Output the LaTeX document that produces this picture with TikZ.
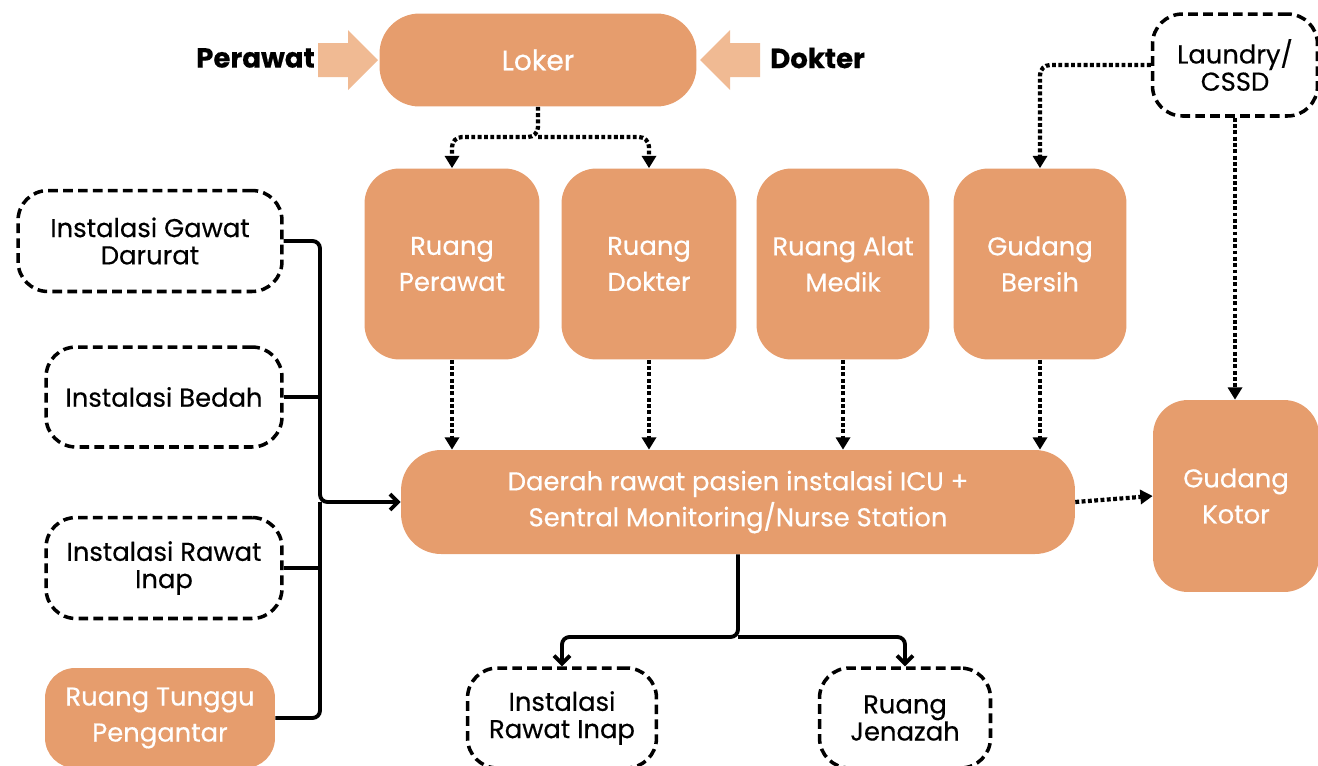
\documentclass[tikz,border=0pt]{standalone}
\usepackage{fontspec}
\setmainfont{Poppins}[FakeBold=0.4]
\usetikzlibrary{arrows.meta}
\definecolor{roomorange}{RGB}{230,157,109}
\definecolor{arrowpeach}{RGB}{240,186,147}
\tikzset{
	room/.style={fill=roomorange, text=white, align=center, inner sep=0pt, rounded corners=0.7cm, font=\fontsize{14.7}{20.5}\selectfont},
	unit/.style={draw, line width=2pt, dash pattern=on 5.5pt off 3pt, align=center, inner sep=0pt, rounded corners=0.6cm, font=\fontsize{14.7}{15.5}\selectfont},
	dotline/.style={line width=2.4pt, dash pattern=on 2.2pt off 1.4pt, rounded corners=0.2cm, -{Triangle[length=7pt,width=8pt]}},
	flowline/.style={line width=2.2pt, rounded corners=0.15cm},
	flowarrow/.style={flowline, -{Straight Barb[length=4.5pt,width=9pt]}}
}

\begin{document}
\begin{tikzpicture}[x=0.02cm, y=-0.02cm]
		%%%%% START %%%%%
		\clip (0, 0) rectangle (1318, 765);
		
		\node[room, minimum width=6.34cm, minimum height=1.86cm, rounded corners=0.8cm, font=\fontsize{16}{20}\selectfont] (loker) at (538, 60) {Loker};
		
		\fill[arrowpeach] (318, 43) -- (348, 43) -- (348, 30) -- (378, 60) -- (348, 90) -- (348, 77) -- (318, 77) -- cycle;
		\fill[arrowpeach] (760, 43) -- (730, 43) -- (730, 30) -- (700, 60) -- (730, 90) -- (730, 77) -- (760, 77) -- cycle;
		\node[anchor=east, font=\fontsize{15.7}{18}\selectfont\bfseries] (perawat) at (321, 58) {Perawat};
		\node[anchor=west, font=\fontsize{15.7}{18}\selectfont\bfseries] (dokter) at (764, 58) {Dokter};
		
		\node[room, minimum width=3.5cm, minimum height=3.82cm] (rperawat) at (452, 264) {Ruang\\Perawat};
		\node[room, minimum width=3.5cm, minimum height=3.82cm] (rdokter) at (649, 264) {Ruang\\Dokter};
		\node[room, minimum width=3.46cm, minimum height=3.82cm] (ralat) at (843, 264) {Ruang Alat\\Medik};
		\node[room, minimum width=3.46cm, minimum height=3.82cm] (gbersih) at (1040, 264) {Gudang\\Bersih};
		
		\node[unit, minimum width=3.3cm, minimum height=2.04cm] (laundry) at (1235, 65) {Laundry/\\CSSD};
		\node[room, minimum width=3.32cm, minimum height=3.84cm] (gkotor) at (1236, 496) {Gudang\\Kotor};
		
		\node[room, minimum width=13.48cm, minimum height=2.08cm, rounded corners=0.8cm] (daerah) at (738, 502) {Daerah rawat pasien instalasi ICU +\\Sentral Monitoring/Nurse Station};
		
		\node[unit, minimum width=5.28cm, minimum height=2.02cm] (igd) at (150, 241) {Instalasi Gawat\\Darurat};
		\node[unit, minimum width=4.72cm, minimum height=2.0cm] (bedah) at (164, 397) {Instalasi Bedah};
		\node[unit, minimum width=4.72cm, minimum height=2.02cm] (inap) at (164, 568) {Instalasi Rawat\\Inap};
		\node[room, minimum width=4.6cm, minimum height=2.0cm, rounded corners=0.6cm] (tunggu) at (160, 718) {Ruang Tunggu\\Pengantar};
		
		\node[unit, minimum width=3.78cm, minimum height=2.0cm] (inapbawah) at (562, 718) {Instalasi\\Rawat Inap};
		\node[unit, minimum width=3.42cm, minimum height=2.0cm] (jenazah) at (905, 718) {Ruang\\Jenazah};
		
		% dotted supply lines
		\coordinate (lsplit) at (538, 137);
		\draw[dotline] (loker.south) -- (lsplit) -| (rperawat.north);
		\draw[dotline] (lsplit) -| (rdokter.north);
		\draw[dotline] (laundry.west) -| (gbersih.north);
		\draw[dotline] (laundry.south) -- (laundry.south |- gkotor.north);
		
		\draw[dotline] (rperawat.south) -- (rperawat.south |- daerah.north);
		\draw[dotline] (rdokter.south) -- (rdokter.south |- daerah.north);
		\draw[dotline] (ralat.south) -- (ralat.south |- daerah.north);
		\draw[dotline] (gbersih.south) -- (gbersih.south |- daerah.north);
		\draw[dotline] (daerah.east) -- (gkotor.west);
		
		% patient flow
		\coordinate (bus) at (320, 502);
		\draw[flowarrow] (igd.east) -| (bus) -- (daerah.west);
		\draw[flowline] (tunggu.east) -| (bus);
		\draw[flowline] (bedah.east) -- (bedah.east -| bus);
		\draw[flowline] (inap.east) -- (inap.east -| bus);
		
		\coordinate (dsplit) at (738, 637);
		\draw[flowarrow] (daerah.south) -- (dsplit) -| (inapbawah.north);
		\draw[flowarrow] (dsplit) -| (jenazah.north);
		
		%%%%% END %%%%%
	\end{tikzpicture}
\end{document}
